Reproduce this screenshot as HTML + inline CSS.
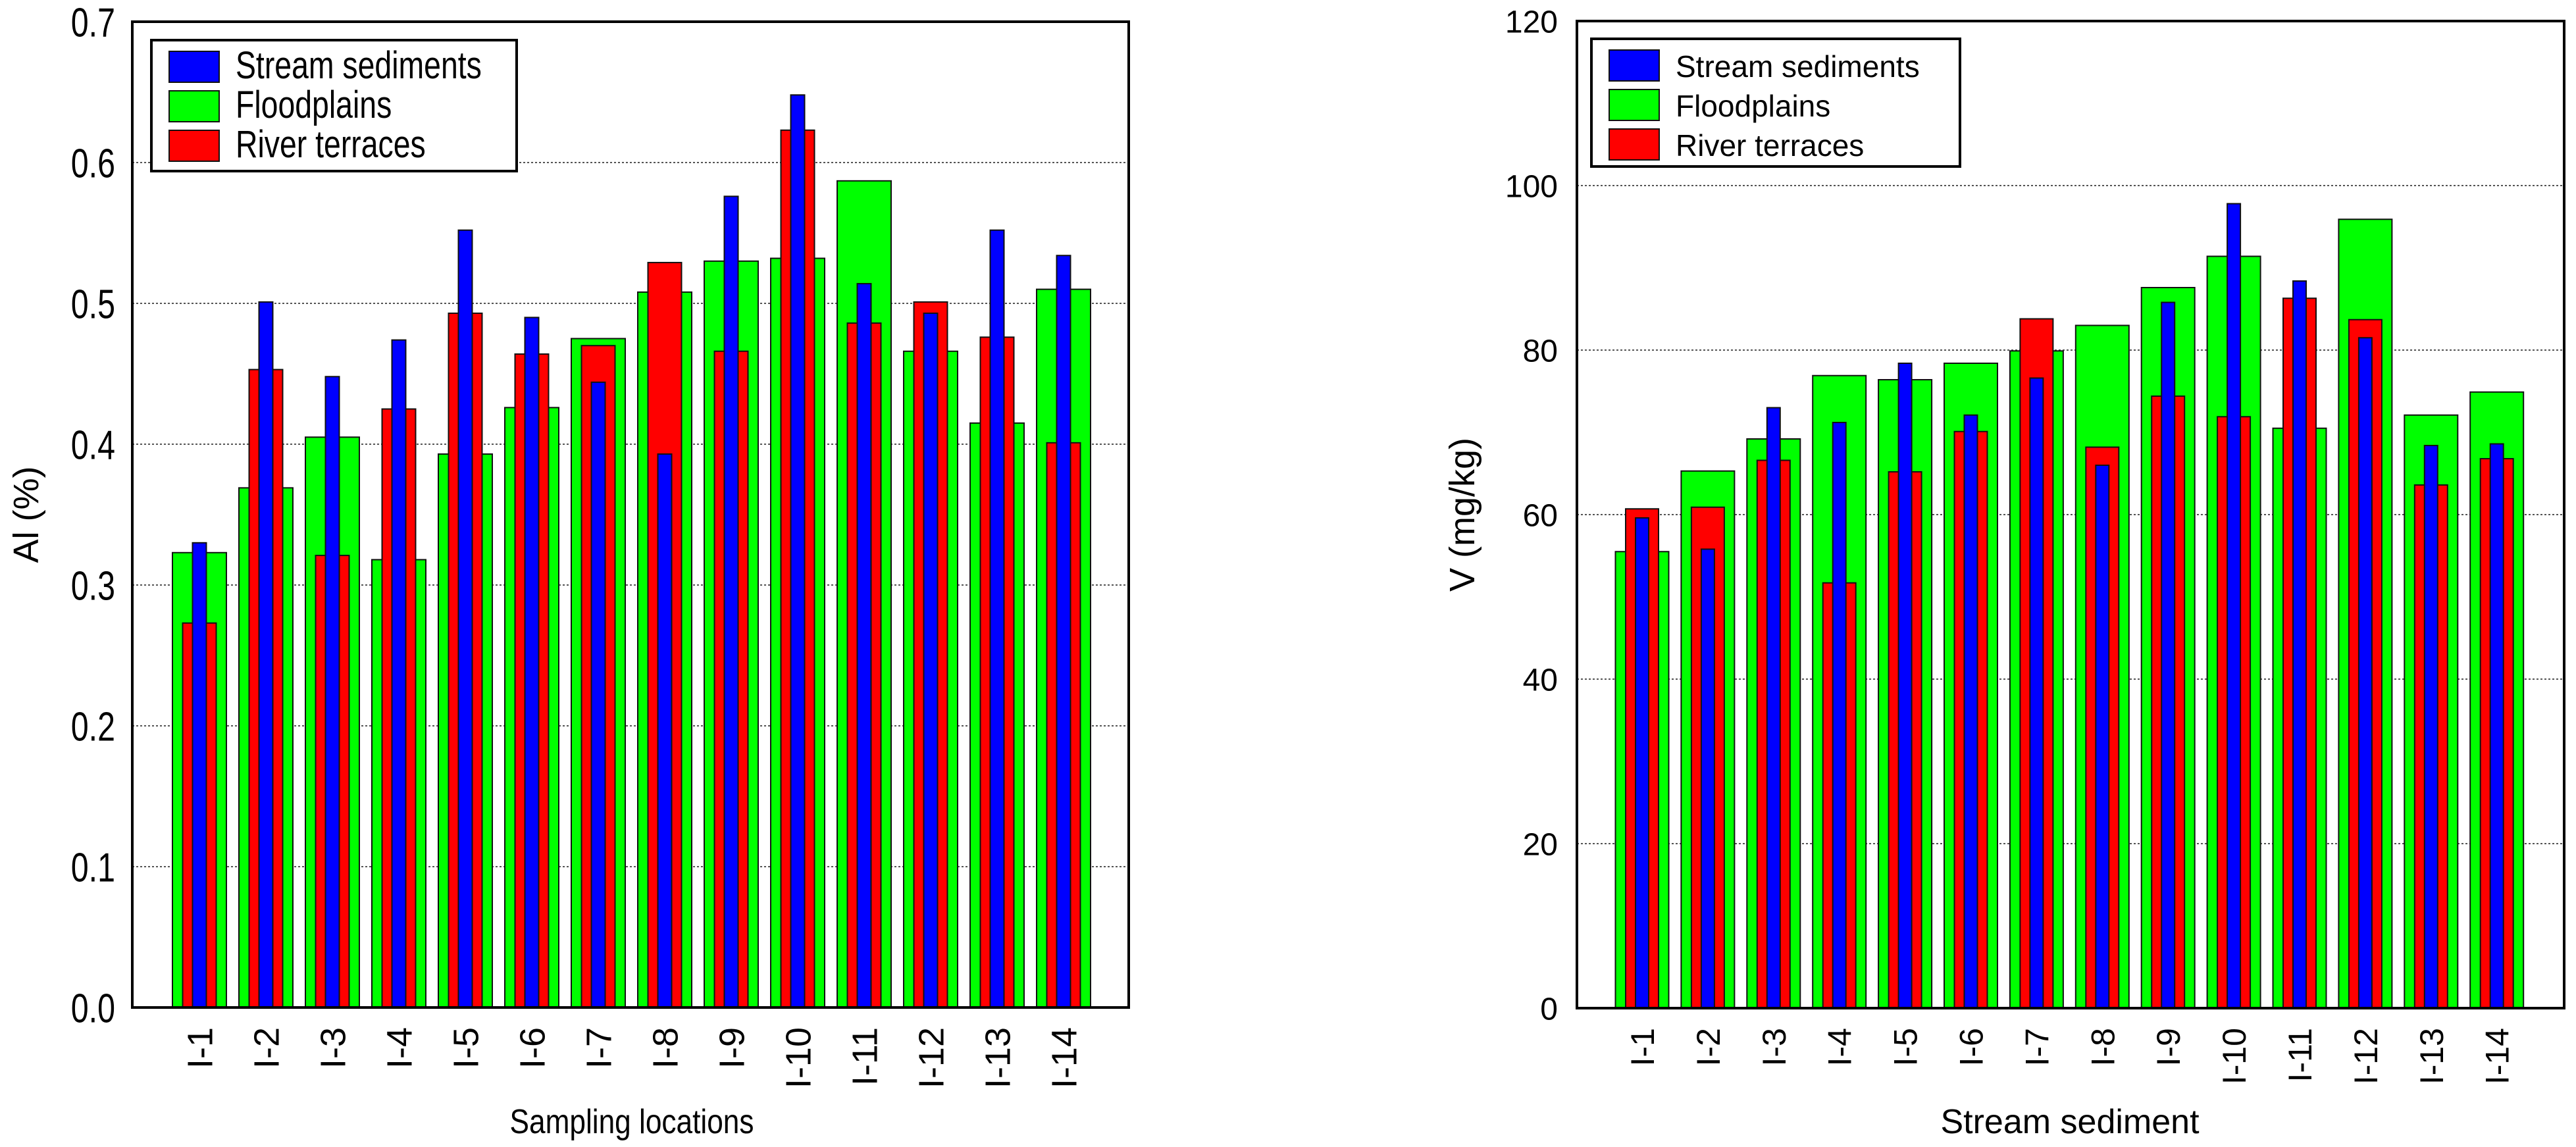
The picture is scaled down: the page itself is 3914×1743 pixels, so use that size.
<!DOCTYPE html>
<html><head><meta charset="utf-8"><style>
html,body{margin:0;padding:0;background:#fff;}
svg{display:block;}
</style></head><body>
<svg id="chart" width="3914" height="1743" viewBox="0 0 3914 1743" xmlns="http://www.w3.org/2000/svg" font-family="Liberation Sans, sans-serif"></svg>
<script>
const categories = ["I-1","I-2","I-3","I-4","I-5","I-6","I-7","I-8","I-9","I-10","I-11","I-12","I-13","I-14"];
const alStream = [0.330,0.501,0.448,0.474,0.552,0.490,0.444,0.393,0.576,0.648,0.514,0.493,0.552,0.534];
const alFlood  = [0.323,0.369,0.405,0.318,0.393,0.426,0.475,0.508,0.530,0.532,0.587,0.466,0.415,0.510];
const alRiver  = [0.273,0.453,0.321,0.425,0.493,0.464,0.470,0.529,0.466,0.623,0.486,0.501,0.476,0.401];
const alTicks = ["0.0","0.1","0.2","0.3","0.4","0.5","0.6","0.7"];
const vStream = [59.6,55.8,73.0,71.2,78.4,72.1,76.6,66.0,85.8,97.8,88.4,81.5,68.4,68.6];
const vFlood  = [55.5,65.3,69.2,76.9,76.4,78.4,79.9,83.0,87.6,91.4,70.5,95.9,72.1,74.9];
const vRiver  = [60.7,60.9,66.6,51.7,65.2,70.1,83.8,68.2,74.4,71.9,86.3,83.7,63.6,66.8];
const vTicks = ["0","20","40","60","80","100","120"];

const NS="http://www.w3.org/2000/svg";
const svg=document.getElementById('chart');
function mk(tag,attrs,parent){const e=document.createElementNS(NS,tag);for(const k in attrs)e.setAttribute(k,attrs[k]);(parent||svg).appendChild(e);return e;}

function drawPanel(cfg){
  const g=mk('g',{});
  
  
  const yMax=parseFloat(cfg.ticks[cfg.ticks.length-1]);
  const y=v=>cfg.y0-(v/yMax)*(cfg.y0-cfg.y1);
  const xc=i=>cfg.c0+i*cfg.step;
  cfg.ticks.forEach((t,i)=>{
    const v=parseFloat(t);
    if(i>0&&i<cfg.ticks.length-1){
      const gl=mk('line',{x1:cfg.x0,x2:cfg.x1,y1:y(v),y2:y(v),stroke:'#555','stroke-width':2,'stroke-dasharray':'3,3'},g);
      
      
    }
    const tl=mk('text',{x:cfg.tickX,y:y(v)+cfg.tickFont*0.36,'text-anchor':'end','font-size':cfg.tickFont,fill:'#000'},g);
    if(cfg.condensed){tl.setAttribute('transform',`translate(${cfg.tickX},0) scale(0.78,1) translate(${-cfg.tickX},0)`);}
    tl.textContent=t;
    
    
  });
  const series=[[cfg.flood,'#00ff00',cfg.wG],[cfg.river,'#ff0000',cfg.wR],[cfg.stream,'#0000ff',cfg.wB]];
  const sn=['bar-floodplains','bar-river-terraces','bar-stream-sediments'];
  series.forEach((s,si)=>{
    s[0].forEach((v,i)=>{
      const b=mk('rect',{x:xc(i)-s[2]/2,y:y(v),width:s[2],height:cfg.y0-y(v),fill:s[1],stroke:'#111','stroke-width':2},g);
      
      
    });
  });
  categories.forEach((c,i)=>{
    const tx=xc(i)+cfg.catFont*0.36, ty=cfg.y0+30;
    const t=mk('text',{x:tx,y:ty,'text-anchor':'end','font-size':cfg.catFont,transform:`rotate(-90 ${tx} ${ty})`},g);
    t.textContent=c;
    
    
  });
  const fr=mk('rect',{x:cfg.x0,y:cfg.y1,width:cfg.x1-cfg.x0,height:cfg.y0-cfg.y1,fill:'none',stroke:'#000','stroke-width':4},g);
  
  
  const L=cfg.legend;
  const lb=mk('rect',{x:L.x,y:L.y,width:L.w,height:L.h,fill:'#fff',stroke:'#000','stroke-width':4},g);
  
  
  const le=[['Stream sediments','#0000ff'],['Floodplains','#00ff00'],['River terraces','#ff0000']];
  le.forEach((e,i)=>{
    const sy=L.y+17+i*60;
    const sw=mk('rect',{x:L.x+27,y:sy,width:76,height:47,fill:e[1],stroke:'#111','stroke-width':2},g);
    
    
    const tx=L.x+128;
    const t=mk('text',{x:tx,y:sy+41,'font-size':cfg.legFont},g);
    if(cfg.condensed)t.setAttribute('transform',`translate(${tx},0) scale(0.8,1) translate(${-tx},0)`);
    t.textContent=e[0];
    
    
  });
  const yt=mk('text',{x:cfg.yTitleX,y:(cfg.y0+cfg.y1)/2,'text-anchor':'middle','font-size':54,transform:`rotate(-90 ${cfg.yTitleX} ${(cfg.y0+cfg.y1)/2})`},g);
  yt.textContent=cfg.yTitle;
  
  
  const xt=mk('text',{x:cfg.xTitleX,y:1722,'text-anchor':'middle','font-size':52},g);
  if(cfg.condensed)xt.setAttribute('transform',`translate(${cfg.xTitleX},0) scale(0.85,1) translate(${-cfg.xTitleX},0)`);
  xt.textContent=cfg.xTitle;
  
  
}

drawPanel({name:'al-chart',x0:201,x1:1715,y0:1531,y1:33,c0:303,step:101,ticks:alTicks,
  stream:alStream,flood:alFlood,river:alRiver,wG:82,wR:51,wB:21,tickX:175,tickFont:62,catFont:54,condensed:true,
  legend:{x:230,y:61,w:555,h:199},legFont:58,yTitle:'Al (%)',yTitleX:58,xTitle:'Sampling locations',xTitleX:960});
drawPanel({name:'v-chart',x0:2396,x1:3896,y0:1532,y1:32,c0:2495,step:99.9,ticks:vTicks,
  stream:vStream,flood:vFlood,river:vRiver,wG:81,wR:50,wB:20,tickX:2367,tickFont:48,catFont:50,condensed:false,
  legend:{x:2418,y:59,w:560,h:194},legFont:46,yTitle:'V (mg/kg)',yTitleX:2240,xTitle:'Stream sediment',xTitleX:3145});
</script>
</body></html>
